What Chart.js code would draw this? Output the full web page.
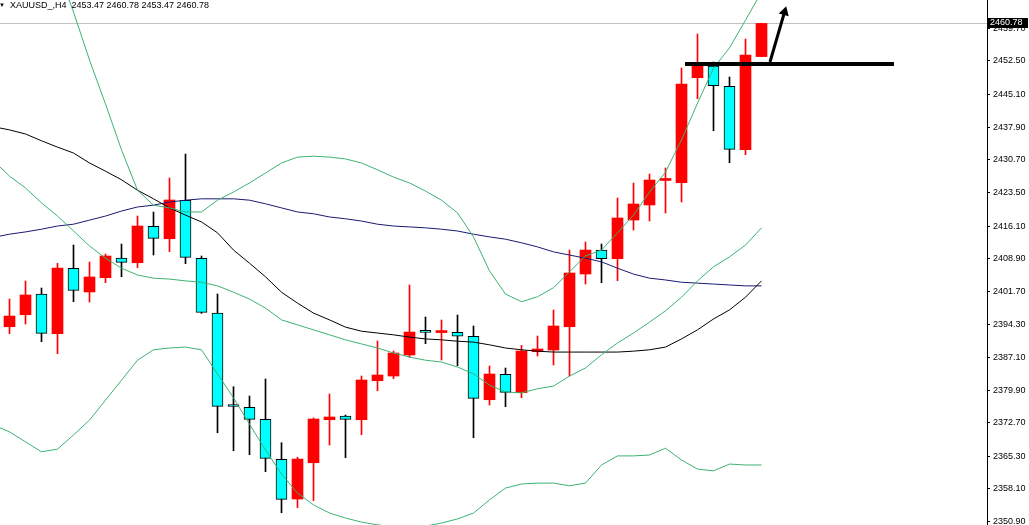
<!DOCTYPE html>
<html>
<head>
<meta charset="utf-8">
<script src="https://cdn.jsdelivr.net/npm/chart.js@4.4.1/dist/chart.umd.min.js"></script>
<style>
  body { margin: 0; background: #fff; }
  #wrap { position: relative; width: 1029px; height: 525px; }
  #titolo { position: absolute; left: -1px; top: 0; font: 9px "Liberation Sans", Arial, sans-serif; color: #000; line-height: 11px; white-space: pre; }
  #titolo span { font-size: 6px; vertical-align: 1px; }
</style>
</head>
<body>
<div id="wrap">
  <canvas id="grafico"></canvas>
  <div id="titolo"><span>▼</span>  XAUUSD_,H4  2453.47 2460.78 2453.47 2460.78</div>
</div>
<script>
// candele H4 (indice 0..47)
var opens  = [2393.89, 2396.54, 2401.11, 2392.35, 2406.77, 2401.55, 2404.70, 2409.05, 2408.01, 2416.04, 2413.30, 2421.77, 2408.98, 2396.92, 2376.29, 2376.12, 2373.47, 2364.65, 2355.89, 2363.90, 2373.38, 2374.20, 2373.38, 2381.98, 2383.02, 2387.65, 2392.66, 2392.60, 2392.66, 2391.78, 2377.79, 2383.39, 2379.34, 2388.38, 2388.75, 2393.89, 2405.52, 2410.81, 2408.89, 2417.43, 2420.74, 2426.15, 2425.65, 2448.81, 2451.39, 2446.92, 2432.93, 2453.47];
var highs  = [2400.00, 2403.97, 2402.43, 2407.88, 2411.91, 2408.16, 2409.93, 2412.13, 2418.31, 2419.19, 2426.69, 2431.98, 2409.49, 2401.11, 2380.66, 2378.61, 2382.36, 2368.31, 2365.09, 2373.76, 2379.05, 2374.42, 2383.02, 2390.74, 2388.53, 2403.09, 2396.03, 2395.37, 2396.47, 2394.05, 2385.23, 2384.78, 2389.79, 2391.84, 2397.58, 2410.81, 2412.57, 2412.13, 2422.28, 2425.59, 2427.57, 2428.90, 2450.95, 2458.45, 2452.28, 2448.97, 2457.35, 2460.78];
var lows   = [2392.35, 2394.49, 2390.59, 2387.94, 2399.41, 2399.34, 2403.60, 2404.92, 2406.91, 2409.71, 2410.44, 2407.79, 2396.85, 2370.51, 2366.54, 2365.66, 2361.91, 2352.87, 2353.97, 2355.52, 2367.80, 2365.00, 2370.07, 2379.78, 2382.42, 2387.14, 2390.14, 2386.55, 2385.29, 2369.41, 2376.62, 2376.25, 2378.23, 2387.43, 2385.45, 2383.02, 2403.31, 2403.60, 2404.04, 2415.22, 2417.21, 2418.97, 2421.40, 2444.18, 2437.12, 2430.07, 2431.83, 2453.47];
var closes = [2396.25, 2400.89, 2392.44, 2406.84, 2401.92, 2404.86, 2409.49, 2408.10, 2416.10, 2413.39, 2421.84, 2409.20, 2397.07, 2376.34, 2376.29, 2373.47, 2364.87, 2355.82, 2364.71, 2373.54, 2373.98, 2373.47, 2382.14, 2383.24, 2388.09, 2392.72, 2392.66, 2392.72, 2391.78, 2378.10, 2383.46, 2379.42, 2388.53, 2388.98, 2394.05, 2405.74, 2410.81, 2408.89, 2417.87, 2420.96, 2426.25, 2426.30, 2447.42, 2451.46, 2447.05, 2433.02, 2453.82, 2460.78];

// indicatori: partono dalla barra -1 (fuori schermo a sinistra)
var lineStart = -1;
var bbUpper = [2505.6, 2499.0, 2490.2, 2481.8, 2473.0, 2463.3, 2452.7, 2443.0, 2432.9, 2424.0, 2420.7, 2420.1, 2419.2, 2419.2, 2421.8, 2423.6, 2425.6, 2427.8, 2430.0, 2431.3, 2431.5, 2431.3, 2430.9, 2430.0, 2428.5, 2426.9, 2425.6, 2423.8, 2421.8, 2419.0, 2413.7, 2406.2, 2401.1, 2399.4, 2400.5, 2402.5, 2406.0, 2409.5, 2410.8, 2414.6, 2418.5, 2423.6, 2428.0, 2435.1, 2443.2, 2450.9, 2455.4, 2461.5, 2467.7];
var bbMiddle = [2430.5, 2427.1, 2424.5, 2421.2, 2418.3, 2415.0, 2411.7, 2409.0, 2406.8, 2405.3, 2404.6, 2404.4, 2404.0, 2403.7, 2402.9, 2401.5, 2400.0, 2398.0, 2395.4, 2394.3, 2393.2, 2392.1, 2391.0, 2390.1, 2389.2, 2388.1, 2387.2, 2386.5, 2386.1, 2385.0, 2383.5, 2381.0, 2379.5, 2379.3, 2380.2, 2380.8, 2383.0, 2384.8, 2387.7, 2390.3, 2392.5, 2394.9, 2397.4, 2400.4, 2404.0, 2407.1, 2409.3, 2411.9, 2415.7];
var bbLower = [2372.2, 2370.7, 2368.5, 2366.3, 2366.9, 2370.0, 2373.3, 2377.7, 2382.1, 2386.5, 2388.8, 2389.2, 2389.4, 2388.8, 2383.5, 2378.2, 2372.4, 2366.7, 2361.4, 2357.2, 2354.6, 2352.8, 2351.7, 2350.8, 2350.2, 2349.7, 2349.5, 2349.9, 2350.6, 2351.5, 2352.8, 2355.7, 2358.3, 2359.2, 2359.4, 2359.4, 2358.8, 2359.4, 2363.4, 2365.4, 2365.4, 2365.6, 2367.1, 2364.5, 2362.5, 2362.1, 2363.6, 2363.4, 2363.4];
var maBlack = [2438.0, 2437.3, 2436.4, 2434.9, 2433.5, 2432.2, 2430.0, 2428.2, 2426.3, 2424.0, 2422.1, 2420.1, 2418.5, 2417.0, 2414.6, 2410.8, 2407.9, 2404.9, 2401.5, 2399.1, 2396.9, 2395.4, 2393.8, 2392.9, 2392.5, 2392.1, 2391.6, 2391.2, 2391.0, 2390.7, 2390.5, 2389.9, 2389.2, 2388.8, 2388.5, 2388.3, 2388.3, 2388.3, 2388.3, 2388.3, 2388.5, 2388.8, 2389.4, 2391.2, 2393.2, 2395.6, 2397.6, 2400.4, 2404.0];
var maNavy = [2413.6, 2414.3, 2414.8, 2415.4, 2416.1, 2416.5, 2417.4, 2418.3, 2419.4, 2420.3, 2420.7, 2421.4, 2421.8, 2422.1, 2422.1, 2422.1, 2421.8, 2421.0, 2420.1, 2419.2, 2418.8, 2418.1, 2417.7, 2417.2, 2416.5, 2416.1, 2415.9, 2415.7, 2415.4, 2415.0, 2414.3, 2413.7, 2413.2, 2412.4, 2411.5, 2410.4, 2409.7, 2409.0, 2408.2, 2406.8, 2405.5, 2404.6, 2404.2, 2403.7, 2403.5, 2403.3, 2403.1, 2402.9, 2402.9];

// asse prezzi
var priceTicks = [2459.70, 2452.50, 2445.10, 2437.90, 2430.70, 2423.50, 2416.10, 2408.90, 2401.70, 2394.30, 2387.10, 2379.90, 2372.70, 2365.30, 2358.10, 2350.90];
var lastPrice = 2460.78;

// disegni a mano: livello e freccia
var levelX = [42.22, 55.28];
var levelPrice = 2451.83;
var arrowX = [47.53, 48.44];
var arrowY = [2452.28, 2463.3];

var RED = '#ff0000';
var CYAN = '#00ffff';

function pts(arr, start) {
    var out = [];
    for (var i = 0; i < arr.length; i++) {
        out.push({ x: start + i, y: arr[i] });
    }
    return out;
}

var bodies = [], wicks = [], bodyColor = [], bodyBorder = [], bodyBorderW = [], wickColor = [];
for (var i = 0; i < opens.length; i++) {
    var up = closes[i] > opens[i];
    bodies.push({ x: i, y: [opens[i], closes[i]] });
    wicks.push({ x: i, y: [lows[i], highs[i]] });
    bodyColor.push(up ? RED : CYAN);
    bodyBorder.push(up ? RED : '#000');
    bodyBorderW.push(up ? 0 : 1);
    wickColor.push(up ? RED : '#000');
}

function lineDs(data, color, width, order) {
    return {
        type: 'line',
        data: data,
        borderColor: color,
        borderWidth: width,
        pointRadius: 0,
        tension: 0,
        fill: false,
        order: order
    };
}

var priceBox = {
    id: 'priceBox',
    afterDraw: function (chart) {
        var ctx = chart.ctx;
        var y = Math.round(chart.scales.y.getPixelForValue(lastPrice));
        var x = chart.chartArea.right + 1;
        ctx.save();
        ctx.fillStyle = '#000';
        ctx.fillRect(x, y - 5, 40, 10);
        ctx.fillStyle = '#fff';
        ctx.font = '9px "Liberation Sans"';
        ctx.textBaseline = 'middle';
        ctx.fillText(lastPrice.toFixed(2), x + 2, y);
        ctx.restore();
    }
};

var ctx = document.getElementById('grafico');
var chart = new Chart(ctx, {
    type: 'bar',
    data: {
        datasets: [
            {
                type: 'line',
                data: [{ x: levelX[0], y: levelPrice }, { x: levelX[1], y: levelPrice }],
                borderColor: '#000', borderWidth: 4, pointRadius: 0, order: -2
            },
            {
                type: 'line',
                data: [{ x: arrowX[0], y: arrowY[0] }, { x: arrowX[1], y: arrowY[1] }],
                borderColor: '#000', borderWidth: 3,
                pointStyle: 'triangle', pointRadius: [0, 6], pointRotation: [0, 16],
                pointBackgroundColor: '#000', pointBorderColor: '#000', pointBorderWidth: 0,
                order: -1
            },
            lineDs(pts(bbUpper, lineStart), '#3cb371', 1, 1),
            lineDs(pts(bbMiddle, lineStart), '#3cb371', 1, 2),
            lineDs(pts(bbLower, lineStart), '#3cb371', 1, 3),
            lineDs(pts(maBlack, lineStart), '#000', 1, 4),
            lineDs(pts(maNavy, lineStart), '#191970', 1, 5),
            {
                data: bodies,
                backgroundColor: bodyColor,
                borderColor: bodyBorder,
                borderWidth: bodyBorderW,
                borderSkipped: false,
                barThickness: 11,
                minBarLength: 2,
                grouped: false,
                order: 10
            },
            {
                data: wicks,
                backgroundColor: wickColor,
                borderWidth: 0,
                barThickness: 1,
                grouped: false,
                order: 11
            },
            lineDs([{ x: -0.59375, y: lastPrice }, { x: 61.09375, y: lastPrice }], '#c0c0c0', 1, 20)
        ]
    },
    options: {
        responsive: true,
        maintainAspectRatio: false,
        animation: false,
        layout: { padding: 0, autoPadding: false },
        plugins: { legend: { display: false }, tooltip: { enabled: false } },
        scales: {
            x: {
                type: 'linear',
                display: false,
                offset: false,
                min: -0.59375,
                max: 61.09375
            },
            y: {
                type: 'linear',
                position: 'right',
                beginAtZero: false,
                min: 2350.16,
                max: 2465.95,
                border: { display: true, color: '#000', width: 1 },
                grid: { drawOnChartArea: false, drawTicks: true, tickLength: 3, color: '#000' },
                ticks: {
                    autoSkip: false,
                    padding: 3,
                    color: '#000',
                    font: { family: 'Liberation Sans', size: 9 },
                    callback: function (v) { return Number(v).toFixed(2); }
                },
                afterBuildTicks: function (scale) {
                    scale.ticks = priceTicks.map(function (v) { return { value: v }; });
                },
                afterFit: function (scale) {
                    scale.width = 42;
                    scale.paddingTop = 0;
                    scale.paddingBottom = 0;
                }
            }
        }
    },
    plugins: [priceBox]
});
</script>
</body>
</html>
